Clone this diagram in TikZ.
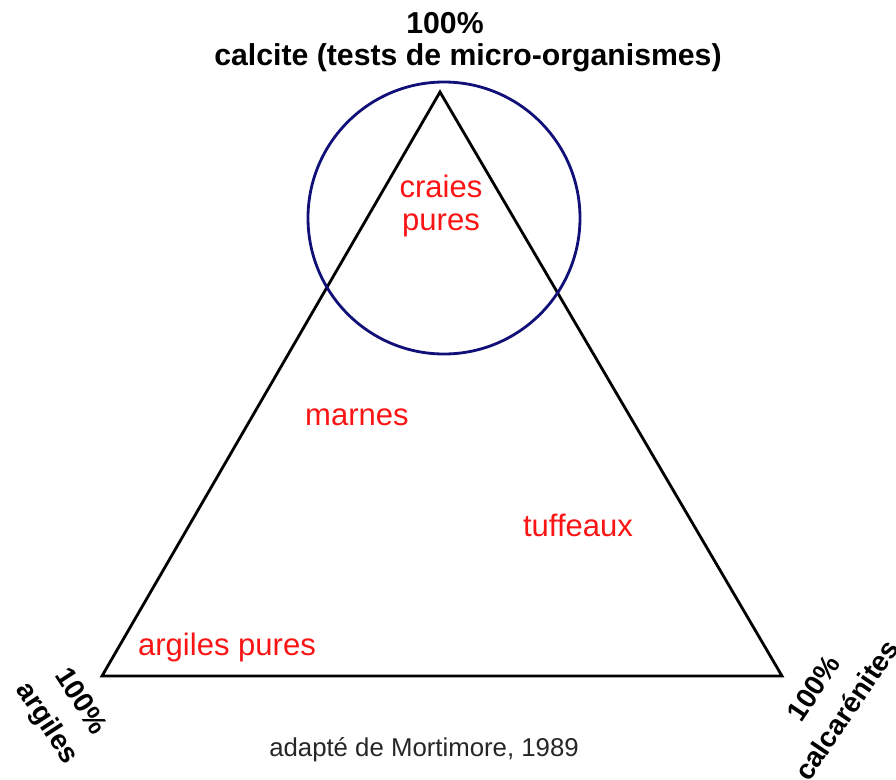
\documentclass[tikz,border=0pt]{standalone}
\usepackage{fontspec}
\setmainfont{Liberation Sans}
\definecolor{cercle}{RGB}{16,16,120}
\definecolor{rouge}{RGB}{250,20,20}
\newcommand{\pole}[1]{\fontsize{#1}{34}\selectfont\bfseries}

\begin{document}
\begin{tikzpicture}[x=0.03cm, y=-0.03cm, line width=2.4pt,
    famille/.style={text=rouge, font=\fontsize{26.5}{29}\selectfont, anchor=base, inner sep=0pt},
    sommet/.style={align=center, inner sep=0pt, font=\pole{24}}]
  \useasboundingbox (0,0) rectangle (896,779);
  % sommets du triangle
  \coordinate (C) at (440,92);
  \coordinate (A) at (102,676);
  \coordinate (K) at (782,676);
  \draw[line join=miter] (C) -- (A) -- (K) -- cycle;
  \coordinate (craie) at (444,218);
  \draw[cercle] (craie) circle (136);
  % poles
  \node[anchor=base, inner sep=0pt, font=\pole{25.8}] (pC) at (445,33) {100\%};
  \node[anchor=base, inner sep=0pt, font=\pole{25.8}] (pCnom) at (468,65) {calcite (tests de micro-organismes)};
  \node[sommet, rotate=-57] (pA) at (63,713) {100\%\\argiles};
  \node[sommet, rotate=56] (pK) at (830,699) {100\%\\calcarénites};
  % domaines
  \node[famille] (craies) at (441,197) {craies};
  \node[famille] (pures) at (441,230) {pures};
  \node[famille] (marnes) at (357,425) {marnes};
  \node[famille] (tuffeaux) at (578,536) {tuffeaux};
  \node[famille] (argiles) at (227,655) {argiles pures};
  \node[anchor=base, inner sep=0pt, text=black!85, font=\fontsize{22}{25}\selectfont] (source) at (424,756) {adapté de Mortimore, 1989};
\end{tikzpicture}
\end{document}
